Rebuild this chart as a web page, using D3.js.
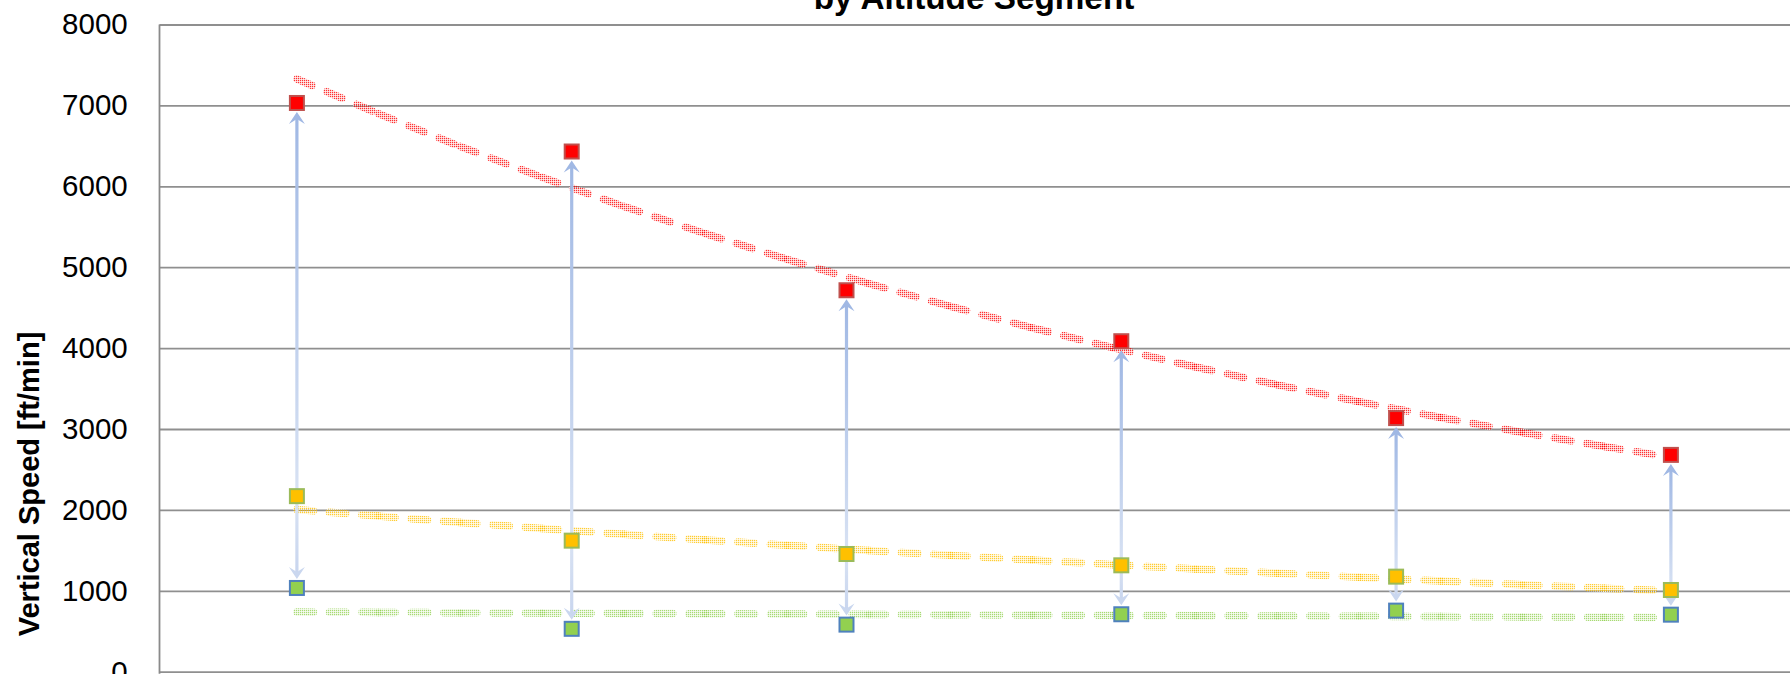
<!DOCTYPE html>
<html>
<head>
<meta charset="utf-8">
<script src="https://cdn.jsdelivr.net/npm/d3@7/dist/d3.min.js"></script>
<style>
  html, body { margin: 0; padding: 0; background: #ffffff; overflow: hidden; }
  svg text { font-family: "Liberation Sans", Arial, sans-serif; fill: #000; }
</style>
</head>
<body>
<svg id="chart" width="1790" height="674"></svg>
<script>
// Altitude segments (category axis) and vertical-speed series [ft/min]
const segments = ["1", "2", "3", "4", "5", "6"];
const maxRate = [7030, 6430, 4715, 4085, 3135, 2680];
const typicalRate = [2170, 1620, 1455, 1315, 1175, 1010];
const minRate = [1035, 530, 582, 710, 755, 705];
const yTicks = [0, 1000, 2000, 3000, 4000, 5000, 6000, 7000, 8000];
const titleText = "by Altitude Segment";
const yAxisTitle = "Vertical Speed [ft/min]";

const svg = d3.select("#chart");
const plot = { left: 159.5, top: 24.5, bottom: 671.7, band: 274.8 };
plot.right = plot.left + plot.band * segments.length;

const x = d3.scaleBand().domain(segments).range([plot.left, plot.right]).padding(0);
const cx = c => x(c) + x.bandwidth() / 2;
const y = d3.scaleLinear().domain([0, 8000]).range([plot.bottom, plot.top]);

const defs = svg.append("defs");

// light checkered texture used by the trend lines
function texture(id, color) {
  const p = defs.append("pattern").attr("id", id)
    .attr("patternUnits", "userSpaceOnUse").attr("width", 2).attr("height", 2);
  p.append("rect").attr("width", 2).attr("height", 2).attr("fill", color).attr("fill-opacity", 0.22);
  p.append("rect").attr("width", 1).attr("height", 1).attr("fill", color).attr("fill-opacity", 0.75);
  p.append("rect").attr("x", 1).attr("y", 1).attr("width", 1).attr("height", 1).attr("fill", "#ffffff").attr("fill-opacity", 0.7);
}
texture("tex-max", "#ff0000");
texture("tex-typ", "#ffc000");
texture("tex-min", "#92d050");

// arrow shaft gradients
const gUp = defs.append("linearGradient").attr("id", "shaft-up")
  .attr("x1", 0).attr("y1", 0).attr("x2", 0).attr("y2", 1);
gUp.append("stop").attr("offset", "0%").attr("stop-color", "#a0b8e4");
gUp.append("stop").attr("offset", "100%").attr("stop-color", "#d8e2f3");
const gDown = defs.append("linearGradient").attr("id", "shaft-down")
  .attr("x1", 0).attr("y1", 0).attr("x2", 0).attr("y2", 1);
gDown.append("stop").attr("offset", "0%").attr("stop-color", "#d8e2f3");
gDown.append("stop").attr("offset", "100%").attr("stop-color", "#c8d5ee");

// gridlines and value labels
const yAxis = d3.axisLeft(y).tickValues(yTicks).tickFormat(d3.format("d"))
  .tickSize(-(plot.right - plot.left)).tickPadding(31.8);
const ga = svg.append("g").attr("transform", `translate(${plot.left},0)`).call(yAxis);
ga.select(".domain").remove();
ga.selectAll(".tick line").attr("stroke", "#8f8f8f").attr("stroke-width", 1.8);
ga.selectAll(".tick text").attr("font-size", 29.5).attr("fill", "#000")
  .style("font-family", '"Liberation Sans", Arial, sans-serif');

// left axis line
svg.append("line")
  .attr("x1", plot.left).attr("x2", plot.left)
  .attr("y1", plot.top).attr("y2", plot.bottom + 2)
  .attr("stroke", "#8a8a8a").attr("stroke-width", 1.8);

// exponential least-squares trend of a series over category index 1..n
function expFit(vals) {
  const xs = vals.map((_, i) => i + 1);
  const ls = vals.map(v => Math.log(v));
  const mx = d3.mean(xs), ml = d3.mean(ls);
  const b = d3.sum(xs, (xv, i) => (xv - mx) * (ls[i] - ml)) / d3.sum(xs, xv => (xv - mx) * (xv - mx));
  const a = Math.exp(ml - b * mx);
  return t => a * Math.exp(b * t);
}

// trend lines are drawn as short straight pieces, each restarting its dash pattern
const step = 81.7;
function drawTrend(vals, texId) {
  const f = expFit(vals);
  const x0 = cx(segments[0]), x1 = cx(segments[segments.length - 1]);
  const xs = [];
  for (let px = x0; px < x1 - 0.5; px += step) xs.push(px);
  xs.push(x1);
  const pts = xs.map(px => [px, y(f(1 + (px - x0) / plot.band))]);
  const g = svg.append("g");
  for (let i = 0; i < pts.length - 1; i++) {
    g.append("path")
      .attr("d", d3.line()([pts[i], pts[i + 1]]))
      .attr("fill", "none")
      .attr("stroke", `url(#${texId})`)
      .attr("stroke-width", 7.5)
      .attr("stroke-linecap", "round")
      .attr("stroke-dasharray", "16.5 16.1");
  }
}
drawTrend(maxRate, "tex-max");
drawTrend(typicalRate, "tex-typ");
drawTrend(minRate, "tex-min");

// range arrows from the typical value up to the max and down to the min
const half = 8;
function arrowHead(px, tipY, dir, color) {
  // dir = -1 points up, +1 points down
  const len = 12, w = 8, notch = 5;
  const p = d3.path();
  p.moveTo(px, tipY);
  p.lineTo(px - w, tipY - dir * len);
  p.lineTo(px, tipY - dir * (len - notch));
  p.lineTo(px + w, tipY - dir * len);
  p.closePath();
  svg.append("path").attr("d", p.toString()).attr("fill", color);
}
segments.forEach((c, i) => {
  const px = cx(c);
  const yTyp = y(typicalRate[i]);
  const yMax = y(maxRate[i]) + half + 1;
  const yMin = y(minRate[i]) - half - 1;
  svg.append("rect").attr("x", px - 1.6).attr("width", 3.2)
    .attr("y", yMax + 4).attr("height", Math.max(0, yTyp - yMax - 4))
    .attr("fill", "url(#shaft-up)");
  arrowHead(px, yMax, -1, "#a0b8e4");
  svg.append("rect").attr("x", px - 1.6).attr("width", 3.2)
    .attr("y", yTyp).attr("height", Math.max(0, yMin - 4 - yTyp))
    .attr("fill", "url(#shaft-down)");
  arrowHead(px, yMin, 1, "#cad7ef");
});

// markers
function markers(vals, fill, stroke) {
  svg.append("g").selectAll("rect").data(vals).join("rect")
    .attr("x", (d, i) => cx(segments[i]) - 7)
    .attr("y", d => y(d) - 7)
    .attr("width", 14).attr("height", 14)
    .attr("fill", fill).attr("stroke", stroke).attr("stroke-width", 2);
}
markers(minRate, "#92d050", "#4f81bd");
markers(typicalRate, "#ffc000", "#9bbb59");
markers(maxRate, "#ff0000", "#c0504d");

// titles
svg.append("text").attr("x", 974).attr("y", 8.5)
  .attr("text-anchor", "middle").attr("font-size", 33.3).attr("font-weight", "bold")
  .text(titleText);
svg.append("text")
  .attr("transform", "translate(39.3,484) rotate(-90)")
  .attr("text-anchor", "middle").attr("font-size", 29).attr("font-weight", "bold")
  .text(yAxisTitle);
</script>
</body>
</html>
